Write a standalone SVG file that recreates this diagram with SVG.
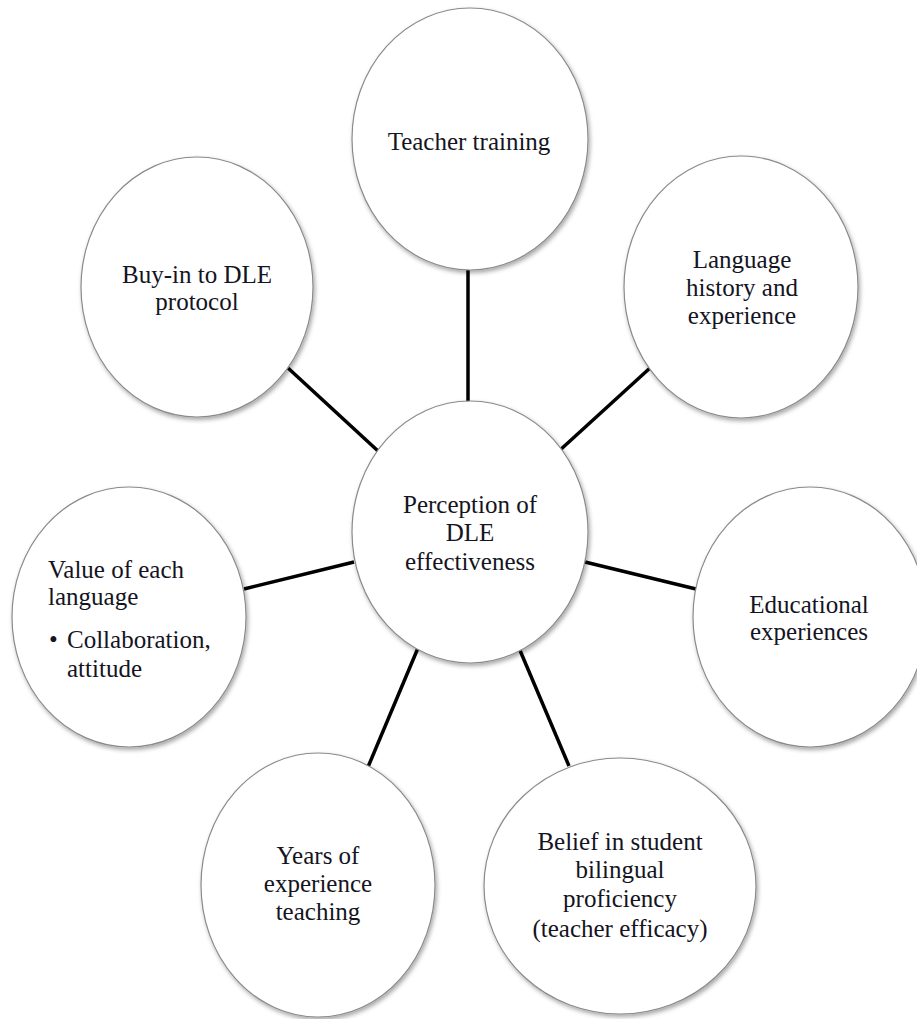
<svg xmlns="http://www.w3.org/2000/svg" width="917" height="1019" viewBox="0 0 917 1019">
  <defs>
    <filter id="shadow" x="-10%" y="-10%" width="125%" height="125%">
      <feDropShadow dx="1.5" dy="2.5" stdDeviation="2" flood-color="#000" flood-opacity="0.35"/>
    </filter>
  </defs>
  <style>
    .node { fill: #ffffff; stroke: #8a8a8a; stroke-width: 1.2; filter: url(#shadow); }
    .conn { stroke: #000; stroke-width: 3.5; stroke-linecap: butt; fill: none; }
    .lbl { font-family: "Liberation Serif", "Times New Roman", serif; font-size: 25px; fill: #141422; }
    .c { text-anchor: middle; }
  </style>
  <rect width="917" height="1019" fill="#ffffff"/>

  <g id="connectors">
    <line class="conn" x1="468" y1="266" x2="468" y2="403"/>
    <line class="conn" x1="288" y1="368" x2="378" y2="451"/>
    <line class="conn" x1="650" y1="368" x2="559" y2="451"/>
    <line class="conn" x1="244" y1="589" x2="354" y2="562"/>
    <line class="conn" x1="696" y1="589" x2="585" y2="562"/>
    <line class="conn" x1="368" y1="767" x2="418" y2="648"/>
    <line class="conn" x1="569" y1="766" x2="519" y2="648"/>
  </g>

  <g id="node-teacher-training">
    <ellipse class="node" cx="470" cy="139" rx="118" ry="131"/>
    <text class="lbl c" x="469" y="150">Teacher training</text>
  </g>

  <g id="node-buy-in">
    <ellipse class="node" cx="197" cy="287" rx="116" ry="130"/>
    <text class="lbl c" x="197" y="283">Buy-in to DLE</text>
    <text class="lbl c" x="197" y="310">protocol</text>
  </g>

  <g id="node-language-history">
    <ellipse class="node" cx="741" cy="287" rx="117" ry="131"/>
    <text class="lbl c" x="742" y="268">Language</text>
    <text class="lbl c" x="742" y="296">history and</text>
    <text class="lbl c" x="742" y="324">experience</text>
  </g>

  <g id="node-value">
    <ellipse class="node" cx="129" cy="617" rx="117" ry="130"/>
    <text class="lbl" x="48" y="578">Value of each</text>
    <text class="lbl" x="48" y="605">language</text>
    <text class="lbl" x="49" y="648">•</text>
    <text class="lbl" x="67" y="648">Collaboration,</text>
    <text class="lbl" x="67" y="677">attitude</text>
  </g>

  <g id="node-educational">
    <ellipse class="node" cx="810" cy="617" rx="117" ry="130"/>
    <text class="lbl c" x="809" y="613">Educational</text>
    <text class="lbl c" x="809" y="640">experiences</text>
  </g>

  <g id="node-years">
    <ellipse class="node" cx="318" cy="885" rx="117" ry="132"/>
    <text class="lbl c" x="318" y="864">Years of</text>
    <text class="lbl c" x="318" y="892">experience</text>
    <text class="lbl c" x="318" y="920">teaching</text>
  </g>

  <g id="node-belief">
    <ellipse class="node" cx="620" cy="886" rx="136" ry="128"/>
    <text class="lbl c" x="620" y="850">Belief in student</text>
    <text class="lbl c" x="620" y="878">bilingual</text>
    <text class="lbl c" x="620" y="907">proficiency</text>
    <text class="lbl c" x="620" y="937">(teacher efficacy)</text>
  </g>

  <g id="node-center">
    <ellipse class="node" cx="470" cy="532" rx="118" ry="131"/>
    <text class="lbl c" x="470" y="513">Perception of</text>
    <text class="lbl c" x="470" y="541">DLE</text>
    <text class="lbl c" x="470" y="570">effectiveness</text>
  </g>
</svg>
